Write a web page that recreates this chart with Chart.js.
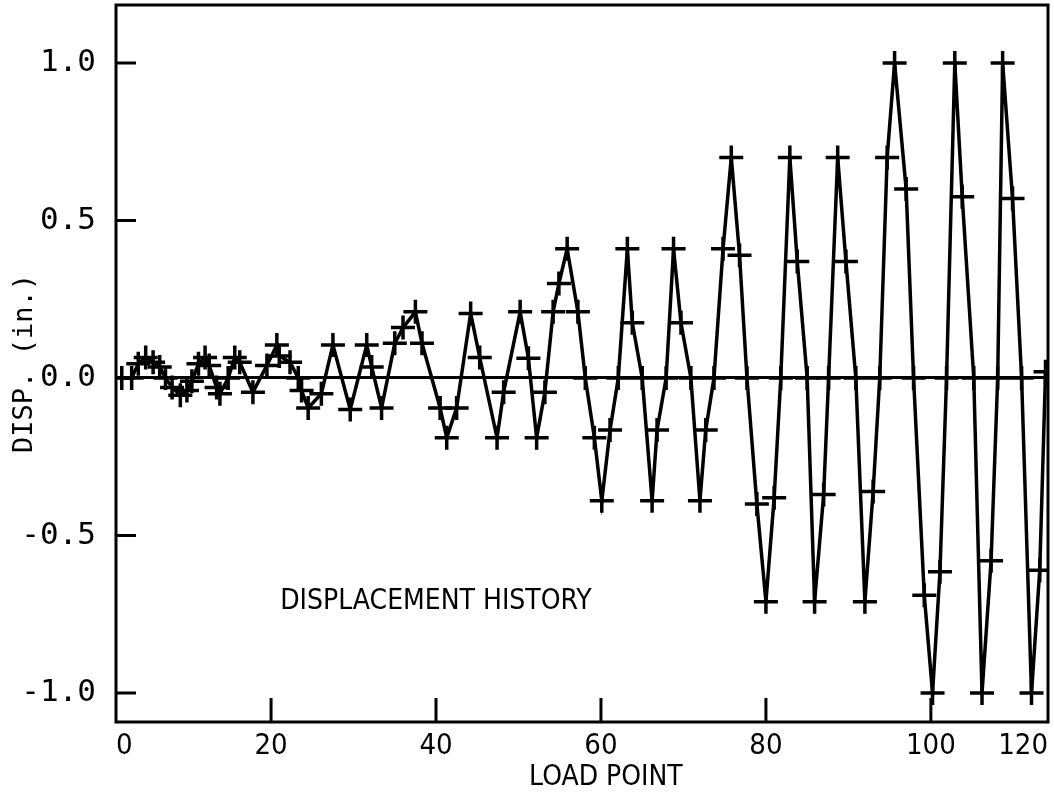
<!DOCTYPE html>
<html>
<head>
<meta charset="utf-8">
<script src="https://cdn.jsdelivr.net/npm/chart.js@4/dist/chart.umd.min.js"></script>
<style>
  body { margin: 0; background: #fff; }
  canvas { display: block; }
</style>
</head>
<body>
<canvas id="dispChart" width="1054" height="795"></canvas>
<script>
// load point index and displacement (in.)
const loadPoint = [1.9, 3.1, 3.9, 4.8, 5.7, 6.5, 7.2, 8.0, 9.0, 9.8, 10.4, 11.2, 12.0, 12.5, 13.4, 13.8, 14.8, 15.6, 16.2, 17.8,
  19.5, 20.7, 21.0, 22.3, 23.3, 23.7, 24.5, 26.1, 27.5, 29.6, 31.6, 32.2, 33.4,
  35.0, 36.0, 37.5, 38.3, 40.5, 41.3, 42.5, 44.2, 45.3, 47.4, 48.2, 50.2, 51.2, 52.2, 53.2,
  54.2, 54.9, 55.9, 57.2, 58.1, 59.2, 60.1, 61.1, 62.1, 63.2, 63.8, 65.0, 66.2, 66.8, 67.9, 68.8, 69.7, 70.9, 72.0, 72.7, 73.7,
  74.8, 75.8, 76.8, 77.7, 78.9, 80.0, 81.0, 81.8, 82.9, 83.8, 85.0, 85.9, 87.0, 87.6, 88.7, 89.7, 90.9, 92.0, 93.0, 93.8,
  94.7, 95.6, 97.0, 97.9, 99.2, 100.2, 101.1, 101.9, 102.9, 103.8, 105.2, 106.2, 107.3, 108.1, 108.7, 109.9, 111.0, 112.2, 113.2, 113.9];
const disp = [0, 0, 0.045, 0.065, 0.05, 0.035, 0, -0.03, -0.055, -0.04, -0.01, 0.045, 0.065, 0.04, -0.03, -0.05, 0, 0.065, 0.05, -0.045,
  0.04, 0.105, 0.07, 0.05, 0, -0.04, -0.095, -0.05, 0.105, -0.1, 0.105, 0.035, -0.095,
  0.11, 0.16, 0.21, 0.11, -0.095, -0.19, -0.095, 0.205, 0.065, -0.19, -0.045, 0.21, 0.063, -0.19, -0.045,
  0.21, 0.30, 0.41, 0.21, 0, -0.19, -0.39, -0.165, 0, 0.41, 0.175, 0, -0.39, -0.165, 0, 0.41, 0.175, 0, -0.39, -0.165, 0,
  0.41, 0.70, 0.39, 0, -0.40, -0.71, -0.38, 0, 0.70, 0.37, 0, -0.71, -0.37, 0, 0.70, 0.37, 0, -0.71, -0.36, 0,
  0.70, 1.0, 0.60, 0, -0.69, -1.0, -0.615, 0, 1.0, 0.575, 0, -1.0, -0.58, 0, 1.0, 0.57, 0, -1.0, -0.61, 0.02];

const xTickValues = [20, 40, 60, 80, 100];
const xEdgeLabels = ['0', '120'];
const yTickValues = [-1.0, -0.5, 0, 0.5, 1.0];
const xRange = [1.2, 114.2];
const yRange = [-1.092, 1.184];

const noteText = 'DISPLACEMENT HISTORY';
const notePos = { x: 21.1, y: -0.71 };
const xTitleText = 'LOAD POINT';
const xTitleCenter = 60.6;

const narrowFont = "'DejaVu Sans Condensed', 'Liberation Sans Narrow', 'DejaVu Sans', sans-serif";
const monoFont = "'DejaVu Sans Mono', monospace";

const points = loadPoint.map((x, i) => ({ x: x, y: disp[i] }));

// frame, inward tick marks, caption and x title
const frameAndTicks = {
  id: 'frameAndTicks',
  afterDraw: (chart) => {
    const { ctx, chartArea: { left, right, top, bottom }, scales: { x, y } } = chart;
    ctx.save();
    ctx.strokeStyle = '#000';
    ctx.lineWidth = 3;
    ctx.strokeRect(left, top, right - left, bottom - top);
    ctx.beginPath();
    xTickValues.forEach(v => {
      const px = x.getPixelForValue(v);
      ctx.moveTo(px, bottom);
      ctx.lineTo(px, bottom - 24);
    });
    yTickValues.forEach(v => {
      if (v === 0) return;
      const py = y.getPixelForValue(v);
      ctx.moveTo(left, py);
      ctx.lineTo(left + 20, py);
    });
    ctx.stroke();
    ctx.fillStyle = '#000';
    ctx.font = '28px ' + narrowFont;
    ctx.textAlign = 'left';
    ctx.textBaseline = 'middle';
    ctx.fillText(noteText, x.getPixelForValue(notePos.x), y.getPixelForValue(notePos.y));
    ctx.textAlign = 'center';
    ctx.fillText(xTitleText, x.getPixelForValue(xTitleCenter), bottom + 56);
    ctx.restore();
  }
};

const config = {
  type: 'line',
  data: {
    datasets: [{
      data: points,
      borderColor: '#000',
      borderWidth: 3.5,
      pointStyle: 'cross',
      pointRadius: 12,
      pointBorderWidth: 3.5,
      pointBorderColor: '#000',
      pointBackgroundColor: '#000',
      tension: 0,
      fill: false
    }]
  },
  options: {
    responsive: false,
    animation: false,
    devicePixelRatio: 1,
    layout: { autoPadding: false, padding: { top: 5, right: 6, left: 0, bottom: 0 } },
    plugins: { legend: { display: false }, tooltip: { enabled: false } },
    scales: {
      x: {
        type: 'linear',
        min: xRange[0],
        max: xRange[1],
        afterFit: (scale) => {
          scale.height = 73;
          scale.paddingLeft = 0;
          scale.paddingRight = 0;
        },
        afterBuildTicks: (scale) => {
          scale.ticks = [{ value: xRange[0] }].concat(xTickValues.map(v => ({ value: v })), [{ value: xRange[1] }]);
        },
        grid: { display: false, drawTicks: false },
        border: { display: false },
        ticks: {
          align: 'inner',
          padding: 7,
          color: '#000',
          font: { family: narrowFont, size: 29 },
          callback: (value) => {
            if (value === xRange[0]) return xEdgeLabels[0];
            if (value === xRange[1]) return xEdgeLabels[1];
            return String(value);
          }
        }
      },
      y: {
        type: 'linear',
        min: yRange[0],
        max: yRange[1],
        afterFit: (scale) => {
          scale.width = 116;
          scale.paddingTop = 0;
          scale.paddingBottom = 0;
        },
        afterBuildTicks: (scale) => {
          scale.ticks = yTickValues.map(v => ({ value: v }));
        },
        grid: {
          drawTicks: false,
          lineWidth: 3,
          color: (c) => (c.tick && c.tick.value === 0 ? '#000' : 'rgba(0,0,0,0)')
        },
        border: { display: false },
        ticks: {
          padding: 20,
          color: '#000',
          font: { family: monoFont, size: 31 },
          callback: (value) => Number(value).toFixed(1)
        },
        title: {
          display: true,
          text: 'DISP. (in.)',
          color: '#000',
          font: { family: monoFont, size: 27 },
          padding: { top: 9, bottom: 0 }
        }
      }
    }
  },
  plugins: [frameAndTicks]
};

const dispChart = new Chart(document.getElementById('dispChart'), config);
</script>
</body>
</html>
